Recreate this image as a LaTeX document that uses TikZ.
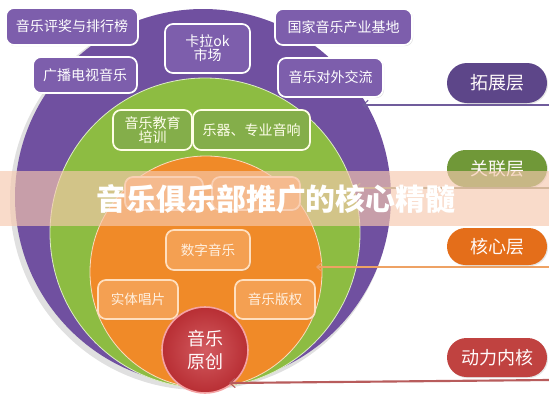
\documentclass[tikz,border=0pt]{standalone}
\usepackage{fontspec}
\newfontfamily\cjk{Noto Sans CJK SC}
\usetikzlibrary{arrows.meta,shapes.misc,shadows}
\definecolor{cpurple}{RGB}{112,80,160}
\definecolor{bpurple}{RGB}{125,94,172}
\definecolor{cgreen}{RGB}{141,188,66}
\definecolor{bgreen}{RGB}{132,174,74}
\definecolor{corange}{RGB}{240,138,40}
\definecolor{borange}{RGB}{244,160,82}
\definecolor{ored}{RGB}{200,50,56}
\definecolor{ppurple}{RGB}{93,70,137}
\definecolor{pgreen}{RGB}{112,152,56}
\definecolor{porange}{RGB}{228,110,26}
\definecolor{pred}{RGB}{192,66,64}
\definecolor{lpurple}{RGB}{112,92,156}
\definecolor{lorange}{RGB}{238,162,100}
\definecolor{lred}{RGB}{184,92,92}
\definecolor{lgreen}{RGB}{150,150,120}
\definecolor{banner}{RGB}{247,201,175}
\begin{document}
\begin{tikzpicture}[x=0.75pt,y=-0.75pt,
  every node/.style={font=\cjk},
  pbox/.style={rectangle,rounded corners=6pt,fill=bpurple,draw=white,line width=1.3pt,
    text=white,font=\cjk\fontsize{10.5}{12.5}\selectfont,align=center,inner sep=0pt,
    drop shadow={opacity=0.25,shadow xshift=0.8pt,shadow yshift=-0.8pt}},
  gbox/.style={pbox,fill=bgreen,draw=white!90!yellow,text=white!92!yellow},
  obox/.style={pbox,fill=borange,draw=white!75!orange,text=white!88!orange,font=\cjk\fontsize{10.2}{12}\selectfont},
  pill/.style={rounded rectangle,minimum width=75pt,inner sep=0pt,
    font=\cjk\fontsize{13.5}{15}\selectfont,text=white!92!pink,
    drop shadow={opacity=0.2,shadow xshift=0.8pt,shadow yshift=-0.8pt}},
  lead/.style={line width=1.6pt,{Straight Barb[length=4pt,width=7pt,line width=0.8pt]}-}
  ]
\useasboundingbox (0,0) rectangle (549,400);
\fill[white] (0,0) rectangle (549,400);
% circles
\fill[black,opacity=0.12] (200,200) circle[radius=190*0.75pt];
\node[circle,fill=cpurple,minimum size=282pt,inner sep=0pt] (cp) at (203,197) {};
\node[circle,fill=cgreen,draw=white!70!cgreen,line width=0.6pt,minimum size=232.5pt,inner sep=0pt] (cg) at (205,233) {};
\node[circle,fill=corange,draw=white!70!corange,line width=0.6pt,minimum size=174pt,inner sep=0pt] (co) at (206,272) {};
% purple boxes
\node[pbox,minimum width=99pt,minimum height=27.75pt] (b1) at (72,26.5) {音乐评奖与排行榜};
\node[pbox,minimum width=78pt,minimum height=27pt] (b2) at (85,75) {广播电视音乐};
\node[pbox,minimum width=63.75pt,minimum height=36.75pt] (b3) at (207.5,48.5) {卡拉ok\\[-2pt]市场};
\node[pbox,minimum width=102.75pt,minimum height=27pt] (b4) at (343.5,27) {国家音乐产业基地};
\node[pbox,minimum width=78.75pt,minimum height=29.25pt] (b5) at (330.5,77.5) {音乐对外交流};
% green boxes
\node[gbox,minimum width=59.25pt,minimum height=30pt] (g1) at (152.5,130) {音乐教育\\[-2pt]培训};
\node[gbox,minimum width=87.75pt,minimum height=30pt] (g2) at (251.5,130) {乐器、专业音响};
% orange boxes
\node[obox,minimum width=58.5pt,minimum height=24.75pt] (o1) at (164,193.5) {};
\node[obox,minimum width=66pt,minimum height=24.75pt] (o2) at (256,193.5) {};
\node[obox,minimum width=63pt,minimum height=30pt] (o3) at (208,250) {数字音乐};
\node[obox,minimum width=60pt,minimum height=29.25pt] (o4) at (138,299.5) {实体唱片};
\node[obox,minimum width=60pt,minimum height=29.25pt] (o5) at (275,299.5) {音乐版权};
% red core
\node[circle,minimum size=64.5pt,inner sep=0pt,inner color=ored!80!white,outer color=ored!92!black,
  draw=pink!80!ored,line width=1.2pt,text=white!92!pink,align=center,
  font=\cjk\fontsize{13.5}{17}\selectfont] (rc) at (205,350) {音乐\\原创};
% leader lines
\coordinate (e1) at (549,105); \coordinate (t1) at (362,105);
\coordinate (e2) at (549,188); \coordinate (t2) at (354,188);
\coordinate (e3) at (549,267); \coordinate (t3) at (316,267);
\coordinate (e4) at (549,380); \coordinate (t4) at (229,383);
\draw[lead,lpurple] (t1) -- (e1);
\draw[lead,lgreen] (t2) -- (e2);
\draw[lead,lorange] (t3) -- (e3);
\draw[lead,lred] (t4) -- (e4);
% pills
\node[pill,fill=ppurple,minimum height=30pt] (p1) at (497,83) {拓展层};
\node[pill,fill=pgreen,minimum height=27.75pt] (p2) at (497,168.5) {关联层};
\node[pill,fill=porange,minimum height=27.75pt] (p3) at (497,246.5) {核心层};
\node[pill,fill=pred,minimum height=29.25pt] (p4) at (497,357.5) {动力内核};
% banner
\fill[banner,opacity=0.65] (0,171) rectangle (549,226);
\node[text=white,font=\cjk\bfseries\fontsize{22.4}{24}\selectfont,inner sep=0pt] (title) at (276,199) {音乐俱乐部推广的核心精髓};
\end{tikzpicture}
\end{document}
